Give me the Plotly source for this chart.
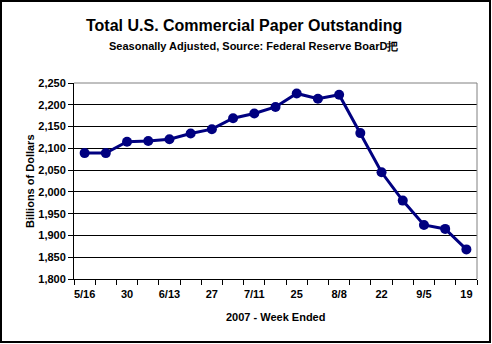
import plotly.graph_objects as go

weeks = ["5/16", "5/23", "5/30", "6/6", "6/13", "6/20", "6/27", "7/4", "7/11", "7/18",
         "7/25", "8/1", "8/8", "8/15", "8/22", "8/29", "9/5", "9/12", "9/19"]
tick_labels = ["5/16", "", "30", "", "6/13", "", "27", "", "7/11", "", "25", "", "8/8", "",
               "22", "", "9/5", "", "19"]
values = [2089, 2089, 2115, 2117, 2121, 2134, 2144, 2169, 2180, 2195,
          2226, 2214, 2223, 2135, 2045, 1980, 1924, 1915, 1868]
y_ticks = [1800, 1850, 1900, 1950, 2000, 2050, 2100, 2150, 2200, 2250]

W, H = 492, 344
L, R, T, B = 74, 15, 83, 65
pw, ph = W - L - R, H - T - B

FONT = "Liberation Sans, Arial, sans-serif"

fig = go.Figure()
fig.add_trace(go.Scatter(
    x=weeks, y=values, mode="lines+markers",
    line=dict(color="#000080", width=3),
    marker=dict(color="#000080", size=10, symbol="circle"),
    showlegend=False, hoverinfo="skip",
))


def px_x(p):
    return (p - L) / pw


def px_y(p):
    return (H - B - p) / ph


fig.update_layout(
    width=W, height=H,
    margin=dict(l=L, r=R, t=T, b=B),
    paper_bgcolor="white", plot_bgcolor="white",
    font=dict(family=FONT, color="black"),
    xaxis=dict(
        type="category", range=[-0.5, 18.5],
        tickmode="array", tickvals=weeks, ticktext=tick_labels, tickangle=0,
        tickson="boundaries", ticks="outside", ticklen=5, tickcolor="black",
        ticklabelstandoff=5,
        showgrid=False, showline=True, linecolor="black", linewidth=1,
        tickfont=dict(family=FONT, size=11, color="black", weight="bold"),
        fixedrange=True,
    ),
    yaxis=dict(
        range=[1800, 2250], tickmode="array", tickvals=y_ticks,
        tickformat=",", ticks="outside", ticklen=5, tickcolor="black",
        showgrid=True, gridcolor="black", gridwidth=1,
        showline=True, linecolor="black", linewidth=1,
        zeroline=False,
        tickfont=dict(family=FONT, size=11, color="black", weight="bold"),
        fixedrange=True,
    ),
    shapes=[
        dict(type="line", xref="paper", yref="paper", x0=0, x1=1, y0=1, y1=1,
             line=dict(color="#808080", width=1)),
        dict(type="line", xref="paper", yref="paper", x0=1, x1=1, y0=0, y1=1,
             line=dict(color="#808080", width=1)),
        dict(type="rect", xref="paper", yref="paper",
             x0=px_x(1), x1=px_x(490), y0=px_y(342), y1=px_y(1),
             line=dict(color="black", width=2), fillcolor="rgba(0,0,0,0)"),
    ],
    annotations=[
        dict(text="<b>Total U.S. Commercial Paper Outstanding</b>", xref="paper", yref="paper",
             x=px_x(244), y=px_y(25), showarrow=False, xanchor="center", yanchor="middle",
             font=dict(family=FONT, size=16, color="black")),
        dict(text="<b>Seasonally Adjusted, Source: Federal Reserve BoarD把</b>", xref="paper", yref="paper",
             x=px_x(253), y=px_y(45.5), showarrow=False, xanchor="center", yanchor="middle",
             font=dict(family=FONT, size=11, color="black")),
        dict(text="<b>Billions of Dollars</b>", xref="paper", yref="paper",
             x=px_x(30), y=px_y(181), showarrow=False, xanchor="center", yanchor="middle",
             textangle=-90, font=dict(family=FONT, size=11, color="black")),
        dict(text="<b>2007 - Week Ended</b>", xref="paper", yref="paper",
             x=px_x(275), y=px_y(316.5), showarrow=False, xanchor="center", yanchor="middle",
             font=dict(family=FONT, size=11, color="black")),
    ],
)

fig.write_html("out.html")
